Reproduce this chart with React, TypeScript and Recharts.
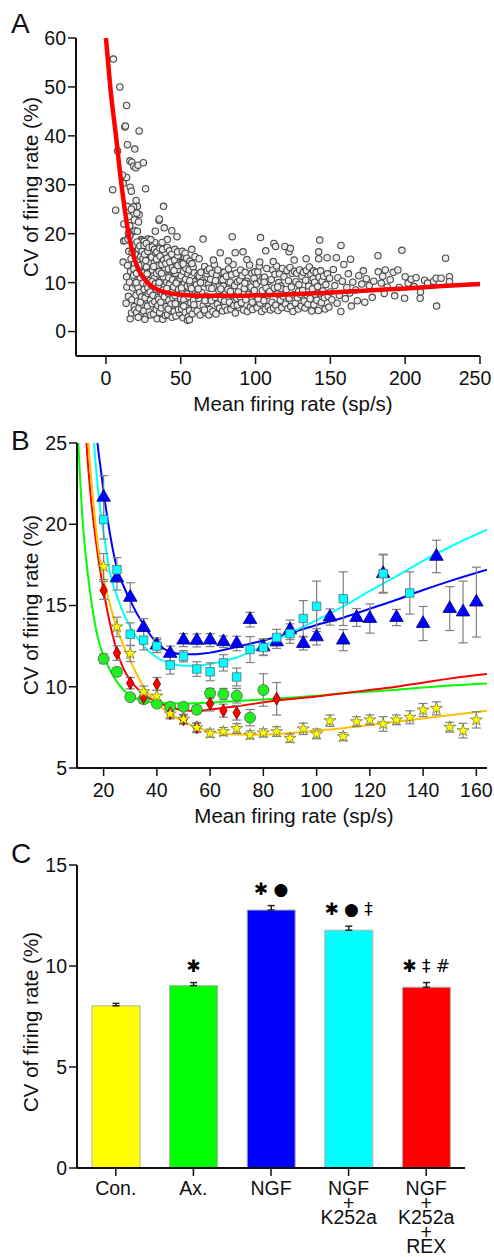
import React from 'react';
import { ComposedChart, Scatter, Line, XAxis, YAxis, Bar, Cell, ErrorBar, Symbols } from 'recharts';

const FONT = '"Liberation Sans", Arial, Helvetica, sans-serif';
const INK = '#111';

// ---------------- Panel A ----------------
const ticksAX = [0, 50, 100, 150, 200, 250];
const ticksAY = [0, 10, 20, 30, 40, 50, 60];

const neuronsA: [number, number][] = [
  [5, 55.7], [9.3, 50], [13.8, 46.2], [12.6, 41.8], [13, 42], [22.2, 41], [7.8, 36.9], [14.4, 38.2], [19.3, 37.3],
  [16, 34.9], [17.3, 34.6], [18.5, 33.8], [20, 33.5], [21.5, 34], [25, 34.5], [4.5, 29], [13.8, 31.5], [11, 32],
  [11.6, 30.3], [6.5, 24.8], [16.2, 29.5], [17, 28.7], [14.2, 25.6], [20.2, 26.8], [21, 25.6], [18.5, 25.5], [17, 25],
  [26.5, 29.2], [15.4, 23.5], [22.2, 23.9], [20.6, 24.2], [19, 22.8], [21.8, 22.4], [12, 22], [11.8, 18.5], [13, 18.6],
  [16, 21.6], [17, 20.2], [18.5, 20.5], [19.5, 20.6], [21, 20.5], [23.5, 18.8], [35.5, 22.7], [35.7, 23], [38.5, 25.6],
  [33, 20.5], [39, 21.2], [44, 20.6], [47.5, 19.4], [24, 18.5], [28, 18.9], [25.5, 18.4], [32.5, 18.2], [41, 18.8],
  [37.5, 18.2], [30, 18.8], [11.5, 14.2], [15, 20],
  [13.5, 5.8], [14, 9.1], [13.8, 11.2], [14.5, 13.5], [15, 7.2], [15.3, 16.4], [15.8, 10.1], [16.2, 2.6], [16.4, 12.3],
  [16.8, 14.9], [17.1, 3.8], [17.4, 6.5], [17.9, 8.9], [18.2, 17.6], [18.5, 11.5], [18.9, 5.1], [19.2, 13.8], [19.6, 9.7],
  [19.9, 15.7], [20.1, 7.4], [14.8, 18.9], [16, 19.5], [17.5, 16.2], [19.3, 4.4], [18.7, 12.8],
  [20.4, 11.9], [20.6, 3.9], [20.9, 14.6], [21.2, 6.2], [21.5, 9], [21.8, 16.9], [22.1, 4.8], [22.3, 12.9], [22.6, 8],
  [22.9, 10.8], [23.2, 15.3], [23.5, 3.3], [23.8, 7.1], [24.1, 13.7], [24.4, 5.6], [24.7, 9.9], [25, 12], [20.8, 18.3],
  [22.7, 17.5], [24.2, 16.4], [21.6, 2.9], [23, 6], [24.8, 14.9], [20.2, 10], [22, 13.5],
  [25.3, 4.2], [25.6, 8.6], [25.9, 15.8], [26.2, 6.9], [26.5, 11], [26.8, 3.1], [27.1, 13.2], [27.4, 9.6], [27.7, 5.2],
  [28, 16.4], [28.3, 7.8], [28.6, 12.1], [28.9, 4], [29.2, 10.4], [29.5, 14.2], [29.8, 6.4], [25.5, 17.6], [27, 18],
  [28.8, 17.2], [26, 2.5], [30, 3.4], [26.6, 14.5], [28.1, 9], [29.6, 8.1], [27.5, 11.8],
  [30.3, 9.5], [30.6, 15.2], [30.9, 5.7], [31.2, 12.6], [31.5, 7.4], [31.8, 3.6], [32.1, 10.8], [32.4, 14.1], [32.7, 6.1],
  [33, 16.1], [33.3, 8.7], [33.6, 4.5], [33.9, 11.9], [34.2, 2.6], [34.5, 13.4], [34.8, 7], [31, 17.3], [32.5, 16.8],
  [34, 16.3], [30.8, 10.2], [33.1, 9.8], [34.7, 5.3], [31.9, 13.3], [33.8, 14.8], [35, 9.2],
  [35.3, 6.6], [35.6, 12.3], [35.9, 3.9], [36.2, 15.4], [36.5, 8.2], [36.8, 10.5], [37.1, 4.8], [37.4, 13.7], [37.7, 7.6],
  [38, 2.5], [38.3, 11.2], [38.6, 14.6], [38.9, 5.9], [39.2, 9.3], [39.5, 16.2], [39.8, 3.3], [36, 17], [37.9, 16.8],
  [39.4, 12.6], [36.7, 6], [38.4, 8.5], [35.5, 10], [37.2, 11.9], [39.1, 7.1], [40, 13.9],
  [40.3, 5.1], [40.6, 10.1], [40.9, 15], [41.2, 3.5], [41.5, 7.9], [41.8, 12.8], [42.1, 6.4], [42.4, 9.6], [42.7, 14.2],
  [43, 4.3], [43.3, 11.5], [43.6, 16.1], [43.9, 8], [44.2, 2.9], [44.5, 13.1], [44.8, 6.9], [41, 17.2], [42.5, 16.5],
  [44, 15.8], [40.7, 8.8], [42, 11], [43.5, 5.6], [44.6, 10.6], [41.6, 4.6], [45, 12.2],
  [45.3, 9.1], [45.6, 4.1], [45.9, 14.6], [46.2, 7.3], [46.5, 11.9], [46.8, 3.2], [47.1, 13.4], [47.4, 6.1], [47.7, 10.3],
  [48, 15.5], [48.3, 5], [48.6, 8.6], [48.9, 12.7], [49.2, 3.8], [49.5, 14.1], [49.8, 7.6], [46, 16.8], [47.9, 16.3],
  [45.5, 12.5], [47, 9.9], [48.5, 4.5], [49.6, 10.9], [46.4, 5.7], [48.1, 13.5], [50, 6.7],
  [50.3, 11.4], [50.6, 4.6], [50.9, 14], [51.2, 8.1], [51.5, 2.8], [51.8, 12.3], [52.1, 6.5], [52.4, 9.8], [52.7, 15.2],
  [53, 3.9], [53.3, 10.7], [53.6, 5.5], [53.9, 13.3], [54.2, 7.7], [54.5, 2.3], [54.8, 11.8], [51, 16.4], [52.9, 16],
  [50.5, 8.9], [52, 5.2], [53.5, 12.9], [54.4, 9.3], [55, 3], [51.6, 13.8], [54, 15],
  [55.3, 7.1], [55.6, 12.6], [55.9, 4.3], [56.2, 14.4], [56.5, 9.5], [56.8, 5.9], [57.1, 11.1], [57.4, 16.8], [57.7, 3.6],
  [58, 8.3], [58.3, 13.2], [58.6, 6.4], [58.9, 10.2], [59.2, 4.7], [59.5, 15.3], [59.8, 7.8], [56, 10.4], [57.5, 13.9],
  [59, 12], [55.8, 2.4], [58.8, 5.5], [57.2, 8.8],
  [60.5, 9.6], [61, 4.2], [61.5, 11.5], [62, 6.8], [62.5, 11.3], [63, 3.4], [63.5, 12.1], [64, 8], [64.5, 10.4], [65, 5.3],
  [65.5, 9.9], [66, 13.3], [66.5, 3.9], [67, 7.2], [67.5, 11.8], [68, 5.9], [68.5, 9.6], [69, 8.9], [69.5, 4.5], [70, 10.7],
  [64.9, 18.9], [62.3, 14.9], [67.8, 12.5], [60.8, 7.4], [66.2, 6.3], [69.2, 12.8], [63.2, 10], [61.7, 8.7], [65.8, 4.4],
  [68.8, 3.4],
  [70.5, 6.3], [71, 11.9], [71.5, 4.1], [72, 9.1], [72.5, 13.7], [73, 7], [73.5, 3.6], [74, 11.5], [74.5, 5.6], [75, 10.4],
  [75.5, 8.4], [76, 4.8], [76.4, 16.1], [76.5, 10.6], [77, 6.6], [77.5, 12.1], [78, 4.2], [78.5, 9.3], [79, 12.1],
  [79.5, 5.1], [80, 7.8], [71.8, 14.6], [74.8, 12.6], [78.2, 10.6], [70.8, 8.8], [73.2, 10.4], [76.8, 8.7], [79.2, 6.2],
  [80.5, 11.3], [81, 4.4], [81.5, 8.6], [82, 12.8], [82.5, 6], [83, 10.1], [83.5, 4.6], [84, 11.6], [84.4, 19.4], [84.5, 7.3],
  [85, 13.7], [85.5, 5.3], [86, 9.4], [86.5, 3.8], [87, 11.9], [87.5, 6.8], [88, 10.2], [88.5, 8.1], [89, 4.9], [89.5, 10.5],
  [90, 12.6], [81.8, 14.4], [86.4, 16.1], [83.2, 8.2], [87.8, 5.4], [89.8, 7],
  [90.5, 5.9], [91, 11.4], [91.6, 16.3], [92, 4.4], [92.5, 8.8], [93, 12.1], [93.5, 6.5], [94, 10.3], [94.5, 4.1], [95, 9.7],
  [95.5, 7.6], [96, 13.6], [96.5, 5], [97, 9.1], [97.5, 11.9], [98, 4.5], [98.5, 7.9], [99, 10.9], [99.5, 12.2], [100, 6.2],
  [94.2, 14.7], [92.8, 9.9], [97.8, 6], [99.2, 8.4],
  [100.5, 9.7], [101, 4.9], [101.5, 12.2], [102, 7.1], [102.5, 13.4], [103, 5.8], [103.3, 19.2], [103.5, 10.4], [104, 4.1],
  [104.5, 8.4], [105, 11], [105.5, 6.3], [106, 11.1], [106.5, 4.6], [107, 9], [107.5, 12.9], [108, 7.4], [108.5, 5.1],
  [109, 10.3], [109.5, 8.2], [110, 4.4], [102.8, 14.2], [106.8, 16.5], [101.7, 6.7], [105.8, 10.1],
  [110.5, 10.6], [111, 6], [111.5, 12.6], [112, 4.8], [112.3, 18], [112.5, 8.9], [113, 11.7], [113.4, 17.4], [113.5, 5.4],
  [114, 13.4], [114.5, 7.7], [115, 4.3], [115.5, 10], [116, 11.8], [116.5, 6.4], [117, 9.3], [117.5, 4.9], [118, 12.9],
  [118.5, 7.2], [119, 11.2], [119.6, 17.4], [120, 5.6], [111.8, 14.3], [116.8, 8.8], [114.8, 9.1],
  [120.5, 8.6], [121, 12.5], [121.5, 4.7], [122, 10.4], [122.4, 16.3], [122.5, 6.8], [123, 13.1], [123.3, 17], [123.5, 5.1],
  [124, 9.1], [124.5, 11.9], [125, 4.1], [125.5, 7.5], [126, 12.3], [126.5, 5.8], [127, 10.2], [127.5, 11.9], [128, 6.9],
  [128.5, 4.6], [129, 9.6], [129.5, 12.6], [130, 7.6], [125.8, 14.6], [128.8, 8.2],
  [130.5, 5.2], [131, 11.3], [131.5, 8.4], [132, 12.1], [132.5, 6.2], [133, 4.8], [133.5, 10.5], [134, 12.5], [134.5, 7.4],
  [135, 5.6], [135.5, 9.3], [136, 13.2], [136.5, 6.7], [137, 11.7], [137.5, 4.2], [138, 8.7], [138.5, 10.8], [139, 5.5],
  [139.5, 10.1], [140, 7.6], [133.8, 14.9], [138.8, 12.4],
  [140.5, 12.1], [141, 6.4], [141.5, 9.2], [142, 4.3], [142.2, 16.3], [142.5, 11.1], [142.9, 18.7], [142.2, 14.9], [143, 7.9],
  [143.5, 12.4], [144, 5.9], [144.5, 10.3], [145, 8.3], [145.5, 11.3], [146, 6.9], [146.5, 4.6], [147, 9.6], [147.8, 15.1],
  [148, 11.8], [148.5, 7.2], [149, 5], [149.5, 10.9], [150, 8.1],
  [151, 6.5], [152, 12.7], [153, 9.4], [154, 15.1], [154.5, 5.8], [155, 11], [156, 7.4], [157.1, 17.6], [157, 4.1], [158, 10.3],
  [159, 13.7], [160, 6.7], [161, 9], [162, 11.8], [163, 7.9], [164, 5.2], [165, 10.1], [167, 8.5], [168, 6.3],
  [169, 11.4], [171, 9.7], [172, 12.4], [173, 6], [174, 10.8], [163.5, 14.8],
  [176, 9.4], [178, 7], [179, 10.3], [181.8, 15.5], [182, 12.2], [184, 9.9], [185, 11.3],
  [186, 7.8], [186.7, 12.6], [188, 9.1], [190, 10.6], [192, 12.1], [193, 7.3],
  [195.1, 12.6], [196, 9], [197.8, 16.6], [199.6, 6.8], [200, 11.2],
  [202, 9.9], [204, 10.7], [206, 9.2], [207.3, 11], [210, 6.8], [210.2, 8.1],
  [213, 10.5], [215, 9.9], [219, 10.3], [220.7, 10.9], [221, 5.2], [224, 10.9],
  [227, 15], [229.6, 11.2], [229.6, 10.2],
];

const fitA: [number, number][] = [
  [0, 60], [2.9, 50], [6.7, 40], [10.4, 30], [15.1, 20], [18.9, 15], [22, 12.5], [27.8, 10], [35, 8.5], [42, 7.9],
  [50, 7.5], [65, 7.3], [85, 7.3], [100, 7.4], [125, 7.6], [150, 8.0], [175, 8.4], [200, 8.8], [225, 9.3], [250, 9.7],
];

// ---------------- Panel B ----------------
const ticksBX = [20, 40, 60, 80, 100, 120, 140, 160];
const ticksBY = [5, 10, 15, 20, 25];

// [rate, CV, SEM]
const conPts: [number, number, number][] = [
  [20, 17.4, 0.8], [25, 13.68, 0.6], [30, 12.05, 0.5], [35, 9.69, 0.35], [40, 9.43, 0.35], [45, 8.33, 0.3], [50, 8.0, 0.3],
  [55, 7.48, 0.3], [60, 7.14, 0.25], [65, 7.24, 0.25], [70, 7.43, 0.3], [75, 7.04, 0.25], [80, 7.16, 0.25], [85, 7.24, 0.3],
  [90, 6.83, 0.25], [95, 7.41, 0.35], [100, 7.1, 0.3], [105, 7.91, 0.35], [110, 6.93, 0.25], [115, 7.85, 0.3],
  [120, 7.96, 0.3], [125, 7.71, 0.45], [130, 7.96, 0.3], [135, 8.12, 0.4], [140, 8.57, 0.4], [145, 8.67, 0.4],
  [150, 7.51, 0.3], [155, 7.3, 0.45], [160, 7.96, 0.5],
];
const axPts: [number, number, number][] = [
  [20, 11.72, 0.3], [25, 10.92, 0.25], [30, 9.36, 0.2], [35, 9.23, 0.25], [40, 8.96, 0.2], [45, 8.77, 0.2], [50, 8.77, 0.2],
  [55, 8.59, 0.25], [60, 9.6, 0.3], [65, 9.55, 0.35], [70, 9.45, 0.45], [75, 8.1, 0.5], [80, 9.8, 1.0],
];
const ngfPts: [number, number, number][] = [
  [20, 21.66, 1.33], [25, 16.7, 0.75], [30, 15.5, 0.9], [35, 13.64, 0.55], [40, 12.56, 0.45], [45, 12.05, 0.45],
  [50, 12.87, 0.4], [55, 12.85, 0.4], [60, 12.87, 0.4], [65, 12.77, 0.35], [70, 12.66, 0.45], [75, 14.13, 0.45],
  [80, 12.45, 0.5], [85, 12.76, 0.4], [90, 13.5, 0.6], [95, 12.66, 0.4], [100, 13.07, 0.5], [105, 14.29, 0.5],
  [110, 12.87, 0.65], [115, 14.26, 0.55], [120, 14.2, 0.9], [125, 16.96, 1.15], [130, 14.26, 0.5], [140, 13.89, 1.05],
  [145, 18.02, 1.0], [150, 14.81, 1.35], [155, 14.6, 1.9], [160, 15.21, 2.15],
];
const k252aPts: [number, number, number][] = [
  [20, 20.29, 1.2], [25, 17.2, 0.75], [30, 13.23, 0.7], [35, 12.87, 0.6], [40, 12.5, 0.4], [45, 11.33, 0.55],
  [50, 11.88, 0.35], [55, 11.09, 0.45], [60, 10.92, 0.55], [65, 11.47, 0.5], [70, 10.6, 0.55], [75, 12.29, 0.8],
  [80, 12.42, 0.5], [85, 13.03, 0.5], [90, 13.27, 0.6], [95, 14.2, 1.1], [100, 14.95, 1.55], [110, 15.42, 1.65],
  [125, 16.96, 1.2], [135, 15.77, 1.3],
];
const rexPts: [number, number, number][] = [
  [20, 15.93, 0.55], [25, 12.07, 0.45], [30, 10.22, 0.35], [35, 9.35, 0.3], [40, 10.17, 0.4], [45, 8.37, 0.3],
  [50, 8.0, 0.25], [55, 7.5, 0.25], [60, 8.96, 0.45], [65, 8.53, 0.4], [70, 8.4, 0.45], [85, 9.26, 1.0],
];

const conFit: [number, number][] = [
  [13.6, 27], [14.3, 25], [16, 21.6], [18, 18.5], [20, 16.7], [22.5, 15.0], [25, 13.6], [27.5, 12.5], [30, 11.6],
  [35, 10.0], [40, 9.0], [45, 8.35], [50, 7.85], [55, 7.5], [60, 7.25], [65, 7.12], [70, 7.06], [80, 7.05], [90, 7.15],
  [100, 7.3], [110, 7.45], [120, 7.65], [130, 7.85], [140, 8.05], [150, 8.25], [164, 8.53],
];
const axFit: [number, number][] = [
  [10, 27], [10.5, 25], [12, 20.5], [14, 17], [16, 14.6], [18, 12.9], [20, 11.9], [22.5, 11.0], [25, 10.3], [27.5, 9.8],
  [30, 9.45], [35, 9.15], [40, 9.02], [50, 8.97], [60, 9.02], [70, 9.12], [80, 9.22], [90, 9.32], [100, 9.45], [110, 9.6],
  [120, 9.7], [130, 9.82], [140, 9.95], [150, 10.07], [164, 10.2],
];
const ngfFit: [number, number][] = [
  [16.5, 27.5], [17.7, 25], [19, 23.3], [20, 22.0], [22.5, 19.3], [25, 17.3], [27.5, 16.2], [30, 15.3], [35, 13.8],
  [40, 12.7], [45, 12.15], [50, 12.0], [55, 12.0], [60, 12.1], [70, 12.45], [80, 12.85], [90, 13.3], [100, 13.8],
  [110, 14.25], [120, 14.8], [130, 15.35], [140, 15.95], [150, 16.5], [164, 17.2],
];
const k252aFit: [number, number][] = [
  [15.6, 27], [16.4, 25], [17.8, 22.3], [19.2, 20.3], [20.5, 18.9], [22.4, 17.0], [25, 15.6], [27.5, 14.5], [30, 13.7],
  [35, 12.5], [40, 11.8], [45, 11.45], [50, 11.3], [55, 11.3], [60, 11.4], [70, 11.8], [80, 12.5], [90, 13.3], [100, 14.1],
  [110, 14.95], [120, 15.9], [130, 16.8], [140, 17.75], [150, 18.6], [164, 19.66],
];
const rexFit: [number, number][] = [
  [13, 27], [13.6, 25], [15, 22], [17.5, 18.5], [20, 15.9], [22.5, 13.8], [25, 12.2], [27.5, 11.1], [30, 10.4],
  [35, 9.55], [40, 9.05], [45, 8.75], [50, 8.55], [55, 8.5], [60, 8.6], [70, 8.8], [85, 9.15], [100, 9.4], [110, 9.6],
  [120, 9.8], [130, 10.0], [140, 10.25], [150, 10.5], [164, 10.78],
];

// ---------------- Panel C ----------------
const groupsC = ['Con.', 'Ax.', 'NGF', 'NGF\n+\nK252a', 'NGF\n+\nK252a\n+\nREX'];
const meansC = [8.03, 9.03, 12.77, 11.77, 8.95];
const semC = [0.12, 0.15, 0.22, 0.2, 0.23];
const marksC = ['', '\u2731', '\u2731 \u25CF', '\u2731 \u25CF \u2021', '\u2731 \u2021 #'];
const barColorsC = ['#FFFF00', '#00FF00', '#0000FF', '#00FFFF', '#FF0000'];

// ---------------- helpers ----------------
const toXY = (arr: [number, number][]) => arr.map(([x, y]) => ({ x, y }));
const toXYE = (arr: [number, number, number][]) => arr.map(([x, y, e]) => ({ x, y, err: e }));

const dataC = groupsC.map((name, i) => ({
  name,
  value: meansC[i],
  errRange: [0, semC[i]],
  top: meansC[i] + semC[i],
  mark: marksC[i],
}));

const axisLine = { stroke: INK, strokeWidth: 2 };
const tickLine = { stroke: INK, strokeWidth: 1.5 };
const tickStyle = { fontSize: 19.5, fill: INK, fontFamily: FONT };

const yTitle = (text: string, cx: number, cy: number) => ({
  content: () => (
    <text
      x={cx}
      y={cy}
      transform={`rotate(-90 ${cx} ${cy})`}
      textAnchor="middle"
      dominantBaseline="central"
      fontSize={20.5}
      fontFamily={FONT}
      fill={INK}
    >
      {text}
    </text>
  ),
});

const xTitle = (text: string, cx: number, baseline: number) => ({
  content: () => (
    <text x={cx} y={baseline} textAnchor="middle" fontSize={20.5} fontFamily={FONT} fill={INK}>
      {text}
    </text>
  ),
});

// x tick for panel A: the last label is kept inside the figure, as in the original
const TickA = (props: any) => {
  const { x, y, payload } = props;
  const last = payload.value === ticksAX[ticksAX.length - 1];
  return (
    <text x={last ? x - 5 : x} y={y} dy="0.71em" textAnchor="middle" fontSize={19.5} fontFamily={FONT} fill={INK}>
      {payload.value}
    </text>
  );
};

const ringShape = (p: any) => (
  <circle cx={p.cx} cy={p.cy} r={3.2} fill="#ececec" stroke="#4a4a4a" strokeWidth={1.1} />
);
const noShape = () => <g />;

const symbolShape = (type: any, size: number, fill: string, stroke: string) => (p: any) => (
  <Symbols cx={p.cx} cy={p.cy} type={type} size={size} fill={fill} stroke={stroke} strokeWidth={0.8} />
);

// multi-line category label drawn as one text block with stacked lines
const CatTick = (props: any) => {
  const { x, y, payload } = props;
  const lines = String(payload.value).split('\n');
  return (
    <text x={x} y={y + 17} textAnchor="middle" fontSize={19.5} fontFamily={FONT} fill={INK}>
      {lines.map((l, i) => (
        <tspan key={i} x={x} dy={i === 0 ? 0 : 14.5}>
          {l}
        </tspan>
      ))}
    </text>
  );
};

const markShape = (p: any) => {
  const t = p.payload && p.payload.mark;
  if (!t) return <g />;
  return (
    <text x={p.cx} y={p.cy - 11} textAnchor="middle" fontSize={17} fontFamily="DejaVu Sans" fill="#000">
      {t}
    </text>
  );
};

const ERR_GREY = '#808080';

export default function App() {
  return (
    <div style={{ position: 'absolute', left: 0, top: 0, width: 494, height: 1257, background: '#fff' }}>
      {/* Panel A */}
      <div style={{ position: 'absolute', left: 0, top: 0 }}>
        <ComposedChart width={494} height={420} margin={{ top: 38, right: 14, bottom: 0, left: 16 }}>
          <XAxis
            type="number"
            dataKey="x"
            domain={[-20, 250]}
            ticks={ticksAX}
            allowDataOverflow
            height={64}
            tickSize={8}
            tickMargin={7}
            axisLine={axisLine}
            tickLine={tickLine}
            tick={<TickA />}
            label={xTitle('Mean firing rate (sp/s)', 293, 411)}
          />
          <YAxis
            type="number"
            dataKey="y"
            domain={[-5, 60]}
            ticks={ticksAY}
            allowDataOverflow
            width={60}
            tickSize={8}
            tickMargin={2}
            axisLine={axisLine}
            tickLine={tickLine}
            tick={tickStyle}
            label={yTitle('CV of firing rate (%)', 30, 187)}
          />
          <Scatter data={toXY(neuronsA)} shape={ringShape} isAnimationActive={false} />
          <Scatter
            data={toXY(fitA)}
            shape={noShape}
            line={{ stroke: '#FF0000', strokeWidth: 4.5 }}
            lineJointType="monotone"
            isAnimationActive={false}
          />
        </ComposedChart>
      </div>

      {/* Panel B */}
      <div style={{ position: 'absolute', left: 0, top: 420 }}>
        <ComposedChart width={494} height={408} margin={{ top: 23, right: 7, bottom: 0, left: 17 }}>
          <XAxis
            type="number"
            dataKey="x"
            domain={[10, 164]}
            ticks={ticksBX}
            allowDataOverflow
            height={60}
            tickSize={8}
            tickMargin={7}
            axisLine={axisLine}
            tickLine={tickLine}
            tick={tickStyle}
            label={xTitle('Mean firing rate (sp/s)', 294, 403)}
          />
          <YAxis
            type="number"
            dataKey="y"
            domain={[5, 25]}
            ticks={ticksBY}
            allowDataOverflow
            width={60}
            tickSize={8}
            tickMargin={2}
            axisLine={axisLine}
            tickLine={tickLine}
            tick={tickStyle}
            label={yTitle('CV of firing rate (%)', 30, 185)}
          />
          <Line data={toXY(ngfFit)} dataKey="y" type="monotone" stroke="#0000FF" strokeWidth={2} dot={false} isAnimationActive={false} />
          <Line data={toXY(k252aFit)} dataKey="y" type="monotone" stroke="#00FFFF" strokeWidth={2} dot={false} isAnimationActive={false} />
          <Line data={toXY(axFit)} dataKey="y" type="monotone" stroke="#00FF00" strokeWidth={2} dot={false} isAnimationActive={false} />
          <Line data={toXY(rexFit)} dataKey="y" type="monotone" stroke="#FF0000" strokeWidth={2} dot={false} isAnimationActive={false} />
          <Line data={toXY(conFit)} dataKey="y" type="monotone" stroke="#FFC000" strokeWidth={2} dot={false} isAnimationActive={false} />

          <Scatter data={toXYE(ngfPts)} shape={symbolShape('triangle', 80, '#0000FF', '#00007a')} isAnimationActive={false}>
            <ErrorBar dataKey="err" direction="y" width={4.5} stroke={ERR_GREY} strokeWidth={1.2} />
          </Scatter>
          <Scatter data={toXYE(k252aPts)} shape={symbolShape('square', 72, '#00FFFF', '#557080')} isAnimationActive={false}>
            <ErrorBar dataKey="err" direction="y" width={4.5} stroke={ERR_GREY} strokeWidth={1.2} />
          </Scatter>
          <Scatter data={toXYE(axPts)} shape={symbolShape('circle', 95, '#22EE22', '#4a6a4a')} isAnimationActive={false}>
            <ErrorBar dataKey="err" direction="y" width={4.5} stroke={ERR_GREY} strokeWidth={1.2} />
          </Scatter>
          <Scatter data={toXYE(rexPts)} shape={symbolShape('diamond', 48, '#FF0000', '#700000')} isAnimationActive={false}>
            <ErrorBar dataKey="err" direction="y" width={4.5} stroke={ERR_GREY} strokeWidth={1.2} />
          </Scatter>
          <Scatter data={toXYE(conPts)} shape={symbolShape('star', 45, '#FFFF00', '#7a7a40')} isAnimationActive={false}>
            <ErrorBar dataKey="err" direction="y" width={4.5} stroke={ERR_GREY} strokeWidth={1.2} />
          </Scatter>
        </ComposedChart>
      </div>

      {/* Panel C */}
      <div style={{ position: 'absolute', left: 0, top: 840 }}>
        <ComposedChart width={494} height={417} data={dataC} margin={{ top: 25, right: 29, bottom: 0, left: 17 }}>
          <XAxis
            dataKey="name"
            type="category"
            height={89}
            tickSize={8}
            tickMargin={2}
            axisLine={axisLine}
            tickLine={tickLine}
            tick={<CatTick />}
            interval={0}
          />
          <YAxis
            type="number"
            domain={[0, 15]}
            ticks={[0, 5, 10, 15]}
            width={60}
            tickSize={8}
            tickMargin={2}
            axisLine={axisLine}
            tickLine={tickLine}
            tick={tickStyle}
            label={yTitle('CV of firing rate (%)', 30, 182)}
          />
          <Bar dataKey="value" barSize={48} stroke="#b0b0b0" strokeWidth={1} isAnimationActive={false}>
            {dataC.map((d, i) => (
              <Cell key={d.name} fill={barColorsC[i]} />
            ))}
            <ErrorBar dataKey="errRange" direction="y" width={3.5} stroke="#222" strokeWidth={1.5} />
          </Bar>
          <Scatter dataKey="top" shape={markShape} isAnimationActive={false} />
        </ComposedChart>
      </div>

      {/* Panel letters */}
      <svg width={494} height={1257} style={{ position: 'absolute', left: 0, top: 0, pointerEvents: 'none' }}>
        <text x={11} y={33} fontSize={28} fontFamily={FONT} fill={INK}>A</text>
        <text x={11} y={450} fontSize={28} fontFamily={FONT} fill={INK}>B</text>
        <text x={11} y={863} fontSize={28} fontFamily={FONT} fill={INK}>C</text>
      </svg>
    </div>
  );
}
